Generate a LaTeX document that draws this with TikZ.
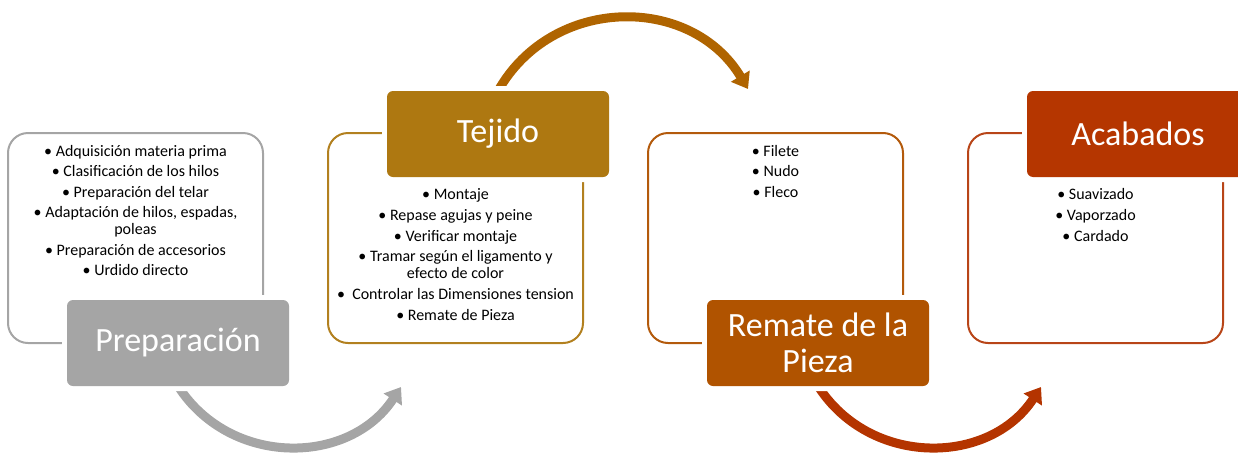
\documentclass[tikz,border=0pt]{standalone}
\usepackage{fontspec}
\setmainfont{Carlito}
\usetikzlibrary{arrows.meta}

\definecolor{prepgray}{HTML}{A5A5A5}
\definecolor{tejgold}{HTML}{AE7811}
\definecolor{tejline}{HTML}{B2801F}
\definecolor{remorange}{HTML}{B05300}
\definecolor{remline}{HTML}{B35A0C}
\definecolor{acared}{HTML}{B53600}
\definecolor{acaline}{HTML}{B84518}
\definecolor{arrowtop}{HTML}{AF6400}
\definecolor{arrowred}{HTML}{B43400}

\tikzset{
  stagebox/.style={draw, line width=2pt, rounded corners=20pt, minimum width=255pt, minimum height=210pt, inner sep=0pt},
  stagelabel/.style={rounded corners=6pt, minimum width=222pt, minimum height=86pt, inner sep=0pt, text=white,
    font=\fontsize{34}{36}\selectfont, align=center, preaction={draw=white, line width=10pt}},
  itemtext/.style={anchor=north, align=center, inner sep=0pt, font=\fontsize{16}{17}\selectfont},
  bendarrow/.style={line width=9pt, -{Triangle[width=21pt,length=15pt]}},
}

\begin{document}
\begin{tikzpicture}[x=1pt, y=-1pt]
\useasboundingbox (0,0) rectangle (1238,453);

% outline boxes
\node[stagebox, draw=prepgray] (prepbox) at (135.5,238) {};
\node[stagebox, draw=tejline] (tejbox) at (455.5,238) {};
\node[stagebox, draw=remline] (rembox) at (775.5,238) {};
\node[stagebox, draw=acaline] (acabox) at (1095.5,238) {};

% item lists
\node[itemtext] (preptext) at (135.5,144) {\strut• Adquisición materia prima\\[3.5pt]
  • Clasificación de los hilos\\[3.5pt]
  • Preparación del telar\\[3.5pt]
  • Adaptación de hilos, espadas,\\ poleas\\[3.5pt]
  • Preparación de accesorios\\[3.5pt]
  • Urdido directo};
\node[itemtext] (tejtext) at (455.5,187.5) {\strut• Montaje\\[3.7pt]
  • Repase agujas y peine\\[3.7pt]
  • Verificar montaje\\[3.7pt]
  • Tramar según el ligamento y\\ efecto de color\\[3.7pt]
  •\ \ Controlar las Dimensiones tension\\[3.7pt]
  • Remate de Pieza};
\node[itemtext] (remtext) at (775.5,144) {\strut• Filete\\[3.5pt]
  • Nudo\\[3.5pt]
  • Fleco};
\node[itemtext] (acatext) at (1095.5,187.5) {\strut• Suavizado\\[3.7pt]
  • Vaporzado\\[3.7pt]
  • Cardado};

% arrow ends
\coordinate (start1) at (178,386);
\coordinate (start2) at (498,91);
\coordinate (start3) at (818,386);
\coordinate (tip1) at (401,387);
\coordinate (tip2) at (748,89);
\coordinate (tip3) at (1041,387);

% arrows (under the labels)
\draw[bendarrow, prepgray] (start1) .. controls (230,467) and (349,466) .. (tip1);
\draw[bendarrow, arrowtop] (start2) .. controls (552,-5) and (691,-6) .. (tip2);
\draw[bendarrow, arrowred] (start3) .. controls (870,467) and (989,466) .. (tip3);

% stage labels
\node[stagelabel, fill=prepgray] (preplabel) at (178,343) {Preparación};
\node[stagelabel, fill=tejgold] (tejlabel) at (498,134) {Tejido};
\node[stagelabel, fill=remorange] (remlabel) at (818,343) {Remate de la\\Pieza};
\node[stagelabel, fill=acared] (acalabel) at (1138,134) {Acabados};
\end{tikzpicture}
\end{document}
